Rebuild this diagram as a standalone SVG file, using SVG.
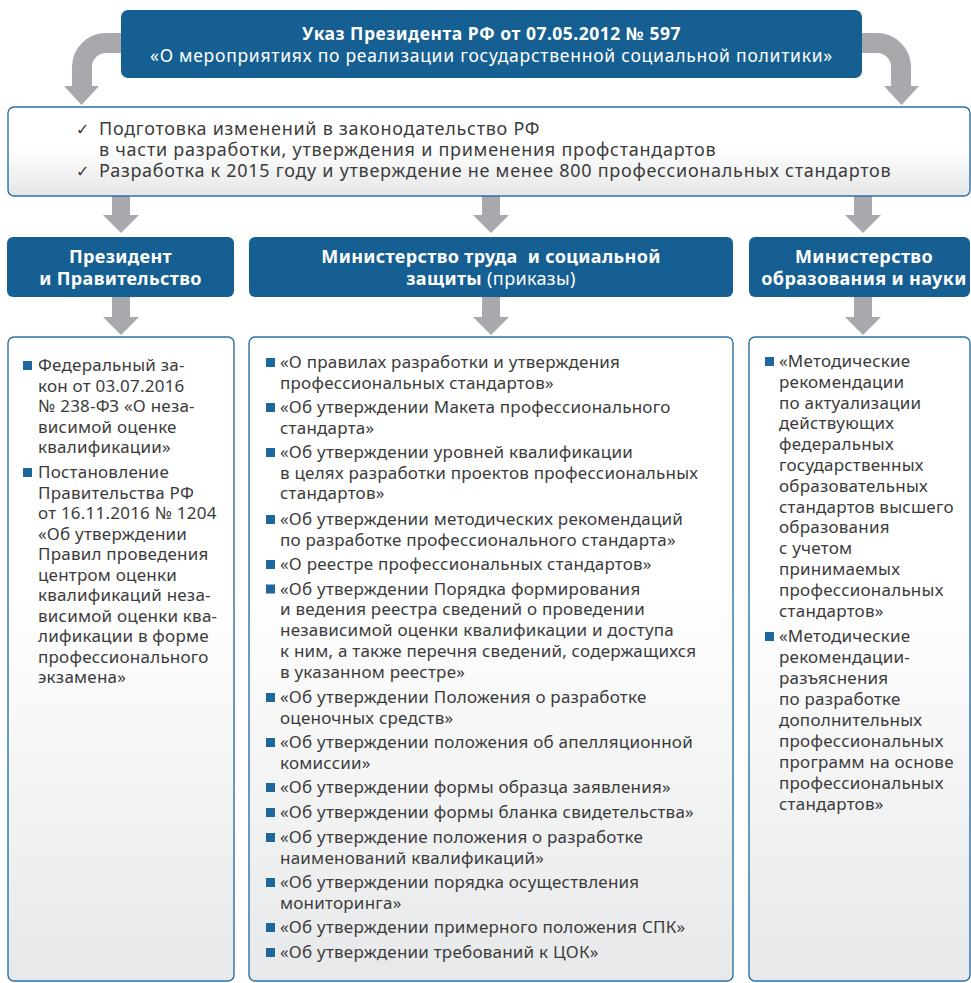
<svg xmlns="http://www.w3.org/2000/svg" width="971" height="983" viewBox="0 0 971 983">
<defs>
<linearGradient id="gTop" x1="0" y1="0" x2="0" y2="1">
<stop offset="0" stop-color="#ffffff"/>
<stop offset="0.45" stop-color="#ffffff"/>
<stop offset="1" stop-color="#e5e6e7"/>
</linearGradient>
<linearGradient id="gBox" x1="0" y1="0" x2="0" y2="1">
<stop offset="0" stop-color="#ffffff"/>
<stop offset="0.4" stop-color="#ffffff"/>
<stop offset="1" stop-color="#e7e8e9"/>
</linearGradient>
<g id="bul"><rect x="0" y="-10" width="9" height="9" fill="#1d679c"/></g>
</defs>
<style>
.blue{fill:#165f92}
.box{stroke:#2d70a5;stroke-width:1.4}
.arr{fill:#a7a9ac}
.arrs{fill:none;stroke:#a7a9ac;stroke-width:20}
.ht{font-family:"Noto Sans","Open Sans","DejaVu Sans",sans-serif;fill:#ffffff;text-anchor:middle}
.b{font-weight:bold}
.h{font-size:18px;letter-spacing:0.35px}
.t{font-family:"Noto Sans","Open Sans","DejaVu Sans",sans-serif;font-size:17px;letter-spacing:0.22px;fill:#3b3b3b}
.tk{font-family:"Noto Sans","Open Sans","DejaVu Sans",sans-serif;font-size:18px;letter-spacing:0.72px;fill:#3b3b3b}
.ck{font-family:"DejaVu Sans",sans-serif;font-size:16px;fill:#3b3b3b}
</style>
<rect width="971" height="983" fill="#ffffff"/>

<g id="connectors">
<path class="arrs" d="M 125 43 H 106 A 24 24 0 0 0 82 67 V 88"/>
<polygon class="arr" points="64,86 99,86 81.5,105"/>
<path class="arrs" d="M 858 43 H 877 A 24 24 0 0 1 901 67 V 88"/>
<polygon class="arr" points="884,86 919,86 901.5,105"/>
<polygon class="arr" points="112,196 130,196 130,215 139,215 121,233 103,215 112,215"/>
<polygon class="arr" points="482,196 500,196 500,215 509,215 491,233 473,215 482,215"/>
<polygon class="arr" points="854,196 872,196 872,215 881,215 863,233 845,215 854,215"/>
<polygon class="arr" points="112,297 130,297 130,317 139,317 121,335 103,317 112,317"/>
<polygon class="arr" points="482,297 500,297 500,317 509,317 491,335 473,317 482,317"/>
<polygon class="arr" points="854,297 872,297 872,317 881,317 863,335 845,317 854,317"/>
</g>

<g id="decree">
<rect class="blue" x="121" y="10" width="741" height="68" rx="7"/>
<text class="ht b" x="491.5" y="40" font-size="17.5" letter-spacing="0.5">Указ Президента РФ от 07.05.2012 № 597</text>
<text class="ht" x="491.5" y="62" font-size="17.5" letter-spacing="0.75">«О мероприятиях по реализации государственной социальной политики»</text>
</g>

<g id="tasks">
<rect class="box" x="8" y="107" width="962" height="89" rx="6" fill="url(#gTop)"/>
<text class="ck" x="76" y="135">✓</text>
<text class="tk" x="99" y="135">Подготовка изменений в законодательство РФ</text>
<text class="tk" x="99" y="156">в части разработки, утверждения и применения профстандартов</text>
<text class="ck" x="76" y="177">✓</text>
<text class="tk" x="99" y="177">Разработка к 2015 году и утверждение не менее 800 профессиональных стандартов</text>
</g>

<g id="head-president">
<rect class="blue" x="7" y="237" width="227" height="60" rx="6"/>
<text class="ht b h" x="120.5" y="263">Президент</text>
<text class="ht b h" x="120.5" y="285">и Правительство</text>
</g>

<g id="head-mintrud">
<rect class="blue" x="249" y="237" width="484" height="60" rx="6"/>
<text class="ht b h" x="491" y="263" xml:space="preserve">Министерство труда  и социальной</text>
<text class="ht h" x="491" y="285"><tspan class="b">защиты</tspan> (приказы)</text>
</g>

<g id="head-minobr">
<rect class="blue" x="749" y="237" width="221" height="60" rx="6"/>
<text class="ht b h" x="864" y="263">Министерство</text>
<text class="ht b h" x="864" y="285">образования и науки</text>
</g>

<g id="list-president">
<rect class="box" x="8" y="337" width="226" height="644" rx="6" fill="url(#gBox)"/>
<use href="#bul" x="23" y="371"/>
<text class="t" x="38" y="371">Федеральный за-<tspan x="38" dy="20.5">кон от 03.07.2016</tspan><tspan x="38" dy="20.5">№ 238-ФЗ «О неза-</tspan><tspan x="38" dy="20.5">висимой оценке</tspan><tspan x="38" dy="20.5">квалификации»</tspan></text>
<use href="#bul" x="23" y="478"/>
<text class="t" x="38" y="478">Постановление<tspan x="38" dy="20.5">Правительства РФ</tspan><tspan x="38" dy="20.5">от 16.11.2016 № 1204</tspan><tspan x="38" dy="20.5">«Об утверждении</tspan><tspan x="38" dy="20.5">Правил проведения</tspan><tspan x="38" dy="20.5">центром оценки</tspan><tspan x="38" dy="20.5">квалификаций неза-</tspan><tspan x="38" dy="20.5">висимой оценки ква-</tspan><tspan x="38" dy="20.5">лификации в форме</tspan><tspan x="38" dy="20.5">профессионального</tspan><tspan x="38" dy="20.5">экзамена»</tspan></text>
</g>

<g id="list-mintrud">
<rect class="box" x="249" y="337" width="484" height="644" rx="6" fill="url(#gBox)"/>
<use href="#bul" x="266" y="368"/>
<text class="t" x="280" y="368">«О правилах разработки и утверждения<tspan x="280" dy="20.7">профессиональных стандартов»</tspan></text>
<use href="#bul" x="266" y="413"/>
<text class="t" x="280" y="413">«Об утверждении Макета профессионального<tspan x="280" dy="20.7">стандарта»</tspan></text>
<use href="#bul" x="266" y="458"/>
<text class="t" x="280" y="458">«Об утверждении уровней квалификации<tspan x="280" dy="20.7">в целях разработки проектов профессиональных</tspan><tspan x="280" dy="20.7">стандартов»</tspan></text>
<use href="#bul" x="266" y="525"/>
<text class="t" x="280" y="525">«Об утверждении методических рекомендаций<tspan x="280" dy="20.7">по разработке профессионального стандарта»</tspan></text>
<use href="#bul" x="266" y="570"/>
<text class="t" x="280" y="570">«О реестре профессиональных стандартов»</text>
<use href="#bul" x="266" y="594.5"/>
<text class="t" x="280" y="594.5">«Об утверждении Порядка формирования<tspan x="280" dy="20.8">и ведения реестра сведений о проведении</tspan><tspan x="280" dy="20.8">независимой оценки квалификации и доступа</tspan><tspan x="280" dy="20.8">к ним, а также перечня сведений, содержащихся</tspan><tspan x="280" dy="20.8">в указанном реестре»</tspan></text>
<use href="#bul" x="266" y="703"/>
<text class="t" x="280" y="703">«Об утверждении Положения о разработке<tspan x="280" dy="20.7">оценочных средств»</tspan></text>
<use href="#bul" x="266" y="748"/>
<text class="t" x="280" y="748">«Об утверждении положения об апелляционной<tspan x="280" dy="20.7">комиссии»</tspan></text>
<use href="#bul" x="266" y="793"/>
<text class="t" x="280" y="793">«Об утверждении формы образца заявления»</text>
<use href="#bul" x="266" y="818"/>
<text class="t" x="280" y="818">«Об утверждении формы бланка свидетельства»</text>
<use href="#bul" x="266" y="843"/>
<text class="t" x="280" y="843">«Об утверждение положения о разработке<tspan x="280" dy="20.7">наименований квалификаций»</tspan></text>
<use href="#bul" x="266" y="888"/>
<text class="t" x="280" y="888">«Об утверждении порядка осуществления<tspan x="280" dy="20.7">мониторинга»</tspan></text>
<use href="#bul" x="266" y="933"/>
<text class="t" x="280" y="933">«Об утверждении примерного положения СПК»</text>
<use href="#bul" x="266" y="958"/>
<text class="t" x="280" y="958">«Об утверждении требований к ЦОК»</text>
</g>

<g id="list-minobr">
<rect class="box" x="749" y="337" width="221" height="644" rx="6" fill="url(#gBox)"/>
<use href="#bul" x="765" y="367"/>
<text class="t" x="779" y="367">«Методические<tspan x="779" dy="20.8">рекомендации</tspan><tspan x="779" dy="20.8">по актуализации</tspan><tspan x="779" dy="20.8">действующих</tspan><tspan x="779" dy="20.8">федеральных</tspan><tspan x="779" dy="20.8">государственных</tspan><tspan x="779" dy="20.8">образовательных</tspan><tspan x="779" dy="20.8">стандартов высшего</tspan><tspan x="779" dy="20.8">образования</tspan><tspan x="779" dy="20.8">с учетом</tspan><tspan x="779" dy="20.8">принимаемых</tspan><tspan x="779" dy="20.8">профессиональных</tspan><tspan x="779" dy="20.8">стандартов»</tspan></text>
<use href="#bul" x="765" y="642"/>
<text class="t" x="779" y="642">«Методические<tspan x="779" dy="21">рекомендации-</tspan><tspan x="779" dy="21">разъяснения</tspan><tspan x="779" dy="21">по разработке</tspan><tspan x="779" dy="21">дополнительных</tspan><tspan x="779" dy="21">профессиональных</tspan><tspan x="779" dy="21">программ на основе</tspan><tspan x="779" dy="21">профессиональных</tspan><tspan x="779" dy="21">стандартов»</tspan></text>
</g>
</svg>
